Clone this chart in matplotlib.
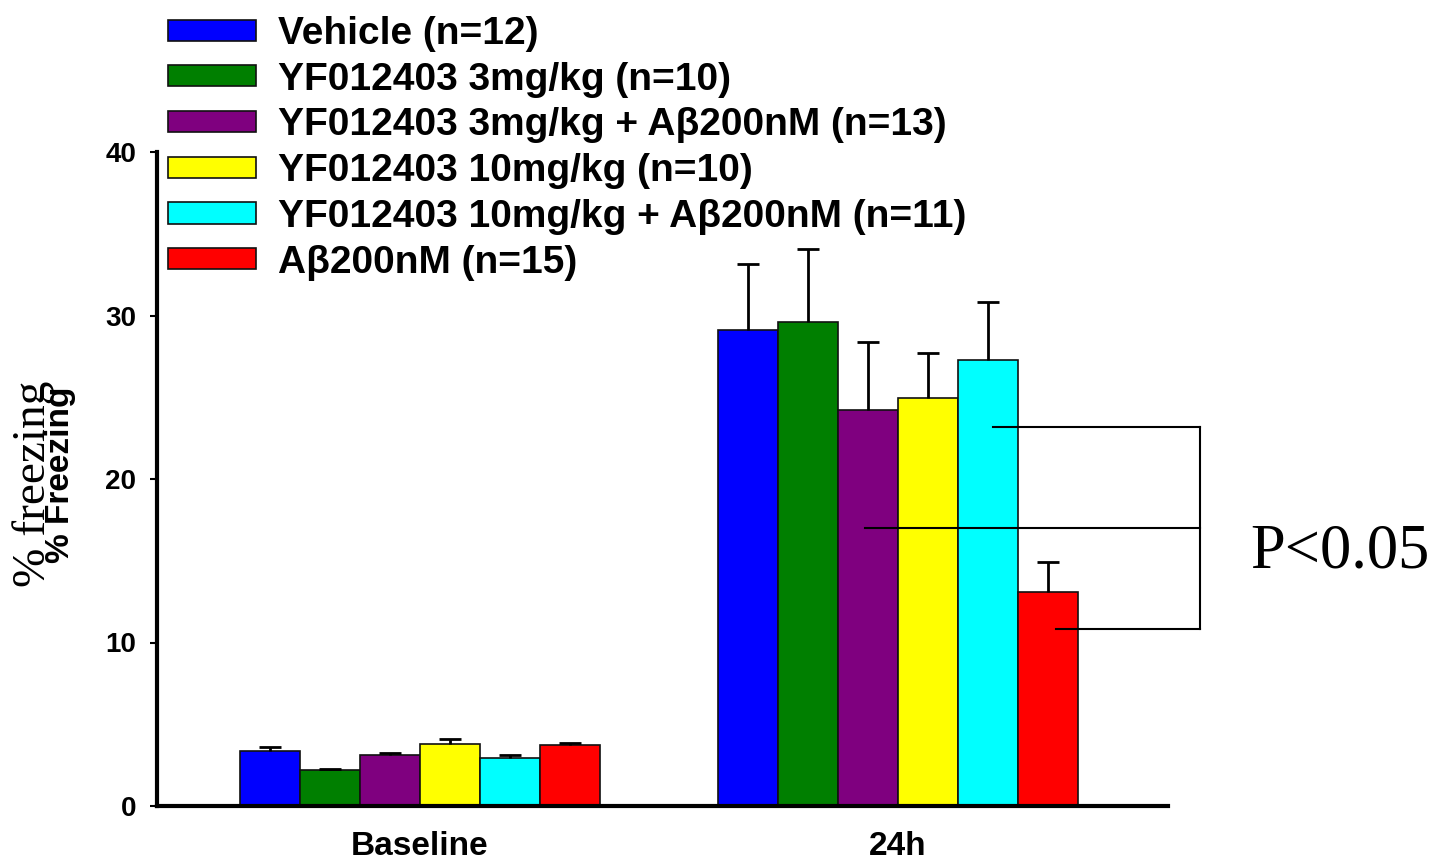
"""freezing bar chart, baseline vs 24h"""

import numpy as np
import matplotlib.pyplot as plt

SANS = ['Liberation Sans', 'DejaVu Sans']
SERIF = ['Liberation Serif', 'DejaVu Serif']

groups = ["Baseline", "24h"]
labels = [
    "Vehicle (n=12)",
    "YF012403 3mg/kg (n=10)",
    "YF012403 3mg/kg + A\u03b2200nM (n=13)",
    "YF012403 10mg/kg (n=10)",
    "YF012403 10mg/kg + A\u03b2200nM (n=11)",
    "A\u03b2200nM (n=15)",
]
colors = ["#0000ff", "#007f00", "#7f007f", "#ffff00", "#00ffff", "#ff0000"]

# mean % freezing per group [baseline, 24h]
means = [
    [3.38, 29.1],
    [2.18, 29.6],
    [3.10, 24.2],
    [3.79, 24.95],
    [2.94, 27.3],
    [3.76, 13.1],
]
# upper error (sem)
errs = [
    [0.20, 4.05],
    [0.10, 4.45],
    [0.16, 4.2],
    [0.33, 2.75],
    [0.20, 3.5],
    [0.11, 1.8],
]

# significance bracket: bar levels and left ends
bracket_y = [23.16, 16.98, 10.83]
bracket_x0 = [1.199, 0.931, 1.331]
bracket_x1 = 1.632

fig = plt.figure(figsize=(14.37, 8.58), dpi=100)
ax = fig.add_axes([157 / 1437, 1 - 806 / 858, (1168 - 157) / 1437, (806 - 152) / 858])

x = np.arange(len(groups))
w = 0.1255
n = len(labels)
for i in range(n):
    pos = x + (i - (n - 1) / 2) * w
    ax.bar(pos, means[i], w, color=colors[i], edgecolor='#111111', linewidth=1.2,
           label=labels[i], zorder=2)
    eb = ax.errorbar(pos, means[i], yerr=[np.zeros(len(groups)), errs[i]], fmt='none',
                     ecolor='black', elinewidth=2, capsize=8, capthick=2, zorder=3)
    # only the upper cap is drawn in the original
    eb[1][0].set_visible(False)

for yy, x0 in zip(bracket_y, bracket_x0):
    ax.plot([x0, bracket_x1], [yy, yy], color='black', lw=1.5, clip_on=False, zorder=4)
ax.plot([bracket_x1, bracket_x1], [bracket_y[0], bracket_y[-1]], color='black', lw=1.5,
        clip_on=False, zorder=4)
fig.text(1340 / 1437, 1 - 553 / 858, "P<0.05", family=SERIF, fontsize=45,
         ha='center', va='center')

ax.set_xlim(-0.55, 1.565)
ax.set_ylim(0, 40)
ax.set_yticks([0, 10, 20, 30, 40])
ax.set_xticks(x)
ax.set_xticklabels(groups, family=SANS, fontweight='bold', fontsize=24)
ax.tick_params(axis='x', length=0, pad=18)
ax.tick_params(axis='y', direction='out', length=5, width=1.5, pad=10)
for t in ax.get_yticklabels():
    t.set_family(SANS)
    t.set_fontweight('bold')
    t.set_fontsize(20)

for s in ['top', 'right']:
    ax.spines[s].set_visible(False)
ax.spines['left'].set_linewidth(3)
ax.spines['bottom'].set_linewidth(3)

# two overlapping y labels, as in the original figure
fig.text(34 / 1437, 1 - 484 / 858, "% freezing", family=SERIF, fontsize=34,
         rotation=90, ha='center', va='center')
fig.text(60 / 1437, 1 - 475 / 858, "% Freezing", family=SANS, fontweight='bold',
         fontsize=24, rotation=90, ha='center', va='center')

leg = fig.legend(loc='upper left', bbox_to_anchor=(168 / 1437, 1 - 16 / 858),
                 frameon=False, borderpad=0, borderaxespad=0,
                 handlelength=2.26, handleheight=0.46, handletextpad=0.57,
                 labelspacing=0.25, prop={'family': SANS, 'weight': 'bold', 'size': 28})

fig.savefig("out.png", dpi=100)
